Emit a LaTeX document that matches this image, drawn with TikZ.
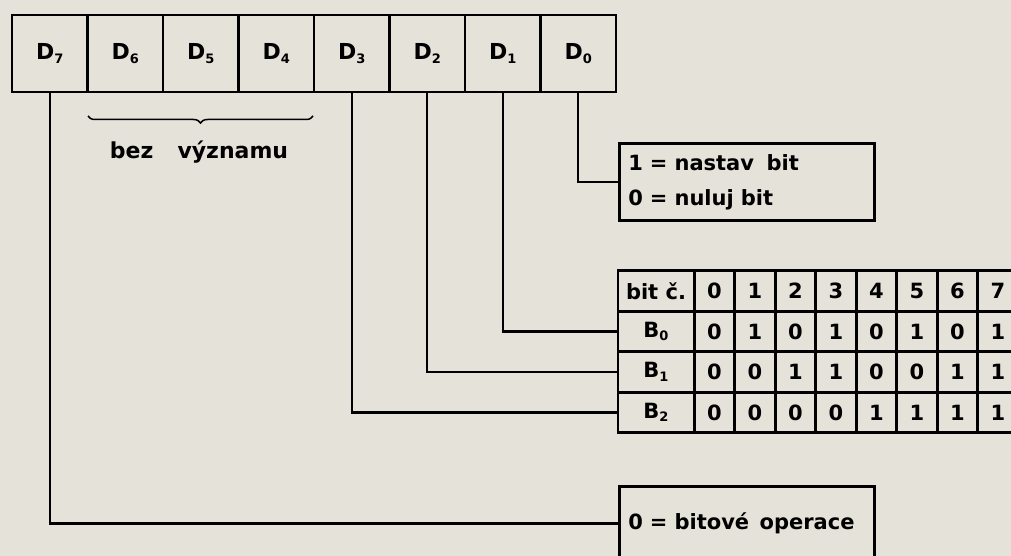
\documentclass[tikz,border=0pt]{standalone}
\usepackage{fontspec}
\setmainfont{DejaVu Sans}
\usetikzlibrary{decorations.pathreplacing}
\definecolor{paper}{RGB}{228,226,217}
\newcommand\lowsub[1]{\raisebox{-0.3ex}{\fontsize{13}{13}\selectfont #1}}
\begin{document}
\begin{tikzpicture}[x=1pt,y=-1pt,
  line width=2.7pt,
  lbl/.style={font=\bfseries\fontsize{21}{22}\selectfont},
  reg/.style={draw,font=\bfseries\fontsize{22}{22}\selectfont,minimum width=75.5pt,minimum height=77pt,inner sep=0pt},
  tcell/.style={draw,lbl,minimum width=40.5pt,minimum height=40.5pt,inner sep=0pt},
  thead/.style={draw,lbl,minimum width=76pt,minimum height=40.5pt,inner sep=0pt},
  infobox/.style={draw,anchor=north west,inner xsep=9pt,inner ysep=0pt,align=left,font=\bfseries\fontsize{21}{35}\selectfont},
  wire/.style={line width=2.4pt}]
\fill[paper] (0,0) rectangle (1011,556);
\useasboundingbox (0,0) rectangle (1011,556);
% register
\foreach \n [count=\k from 0] in {7,6,5,4,3,2,1,0}{
  \node[reg] (d\n) at (49.75+75.5*\k,53.5) {\raisebox{-3pt}{D\lowsub{\n}}};
}
% brace
\draw[line width=1.5pt,decorate,decoration={brace,mirror,amplitude=7pt}] (88,116) -- (313,116);
\node[font=\bfseries\fontsize{22}{22}\selectfont] (bez) at (199,152) {bez\hspace{1.1em}významu};
% info box D0
\node[infobox,minimum width=255pt,minimum height=77pt,text width=237pt] (nast) at (618,142)
  {1 = nastav\hspace{0.6em}bit\\0 = nuluj bit};
% table
\node[thead] (t-0-0) at (656,291) {bit č.};
\node[thead] (t-1-0) at (656,331.5) {B\lowsub{0}};
\node[thead] (t-2-0) at (656,372) {B\lowsub{1}};
\node[thead] (t-3-0) at (656,412.5) {B\lowsub{2}};
\foreach \v [count=\c] in {0,1,2,3,4,5,6,7}{
  \node[tcell] (t-0-\c) at (674+40.5*\c,291) {\v};
}
\foreach \v [count=\c] in {0,1,0,1,0,1,0,1}{
  \node[tcell] (t-1-\c) at (674+40.5*\c,331.5) {\v};
}
\foreach \v [count=\c] in {0,0,1,1,0,0,1,1}{
  \node[tcell] (t-2-\c) at (674+40.5*\c,372) {\v};
}
\foreach \v [count=\c] in {0,0,0,0,1,1,1,1}{
  \node[tcell] (t-3-\c) at (674+40.5*\c,412.5) {\v};
}
% ops box (continues below the frame)
\node[infobox,minimum width=255pt,minimum height=74pt,text width=237pt] (ops) at (618,485)
  {0 = bitové\hspace{0.5em}operace};
% wires
\draw[wire] (d0.south) |- (nast.west);
\draw[wire] (d1.south) |- (t-1-0.west);
\draw[wire] (d2.south) |- (t-2-0.west);
\draw[wire] (d3.south) |- (t-3-0.west);
\draw[wire] (d7.south) |- (ops.west);
\end{tikzpicture}
\end{document}
